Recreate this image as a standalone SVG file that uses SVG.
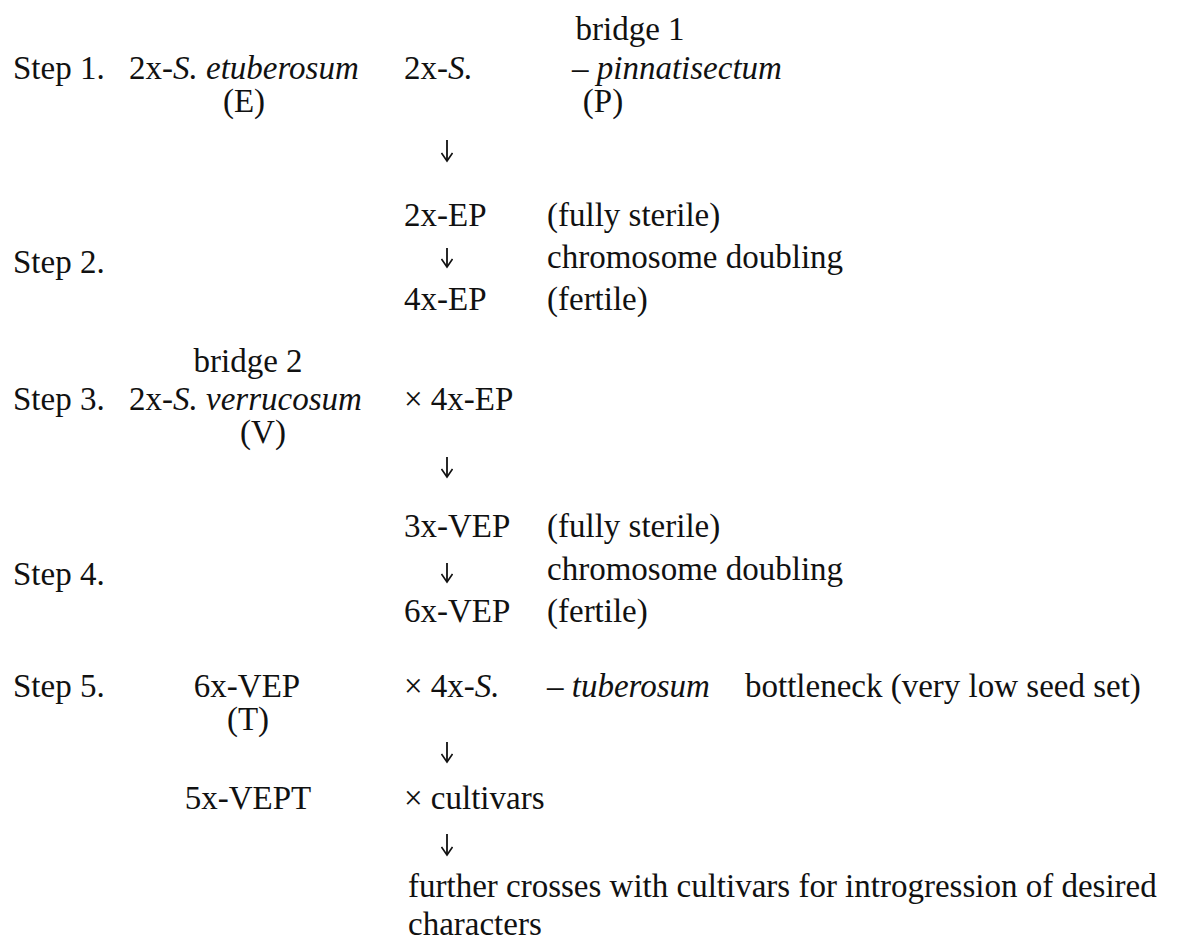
<svg xmlns="http://www.w3.org/2000/svg" width="1184" height="941" viewBox="0 0 1184 941">
<defs>
<style>
text{font-family:"Liberation Serif","Times New Roman",serif;font-size:33px;fill:#111;}
.i{font-style:italic;}
.c{text-anchor:middle;}
.arr{stroke:#111;stroke-width:1.8;fill:none;}
</style>
<marker id="ah" viewBox="0 0 12 12" refX="10" refY="6" markerWidth="12" markerHeight="12" markerUnits="userSpaceOnUse" orient="auto">
<path d="M2,0.5 L10,6 L2,11.5" fill="none" stroke="#111" stroke-width="1.6"/>
</marker>
</defs>
<rect width="1184" height="941" fill="#fff"/>
<g id="step1">
<text x="630" y="40" class="c">bridge 1</text>
<text x="13" y="79">Step 1.</text>
<text x="129" y="79">2x-<tspan class="i">S.</tspan> <tspan class="i">etuberosum</tspan></text>
<text x="404" y="79">2x-<tspan class="i">S.</tspan></text>
<text x="572" y="79">– <tspan class="i">pinnatisectum</tspan></text>
<text x="244" y="112" class="c">(E)</text>
<text x="603" y="112" class="c">(P)</text>
</g>
<g id="step2">
<text x="404" y="226">2x-EP</text>
<text x="547" y="226">(fully sterile)</text>
<text x="13" y="273">Step 2.</text>
<text x="547" y="268">chromosome doubling</text>
<text x="404" y="310">4x-EP</text>
<text x="547" y="310">(fertile)</text>
</g>
<g id="step3">
<text x="248" y="372" class="c">bridge 2</text>
<text x="13" y="410">Step 3.</text>
<text x="129" y="410">2x-<tspan class="i">S.</tspan> <tspan class="i">verrucosum</tspan></text>
<text x="404" y="410">× 4x-EP</text>
<text x="263" y="443" class="c">(V)</text>
</g>
<g id="step4">
<text x="404" y="537">3x-VEP</text>
<text x="547" y="537">(fully sterile)</text>
<text x="13" y="585">Step 4.</text>
<text x="547" y="580">chromosome doubling</text>
<text x="404" y="622">6x-VEP</text>
<text x="547" y="622">(fertile)</text>
</g>
<g id="step5">
<text x="13" y="697">Step 5.</text>
<text x="247" y="697" class="c">6x-VEP</text>
<text x="404" y="697">× 4x-<tspan class="i">S.</tspan></text>
<text x="547" y="697">– <tspan class="i">tuberosum</tspan></text>
<text x="745" y="697">bottleneck (very low seed set)</text>
<text x="248" y="730" class="c">(T)</text>
<text x="248" y="809" class="c">5x-VEPT</text>
<text x="404" y="809">× cultivars</text>
<text x="408" y="897">further crosses with cultivars for introgression of desired</text>
<text x="408" y="935">characters</text>
</g>
<g id="connectors">
<path class="arr" d="M447,140 V161" marker-end="url(#ah)"/>
<path class="arr" d="M447,248 V267" marker-end="url(#ah)"/>
<path class="arr" d="M447,457 V477" marker-end="url(#ah)"/>
<path class="arr" d="M447,563 V582" marker-end="url(#ah)"/>
<path class="arr" d="M447,742 V762" marker-end="url(#ah)"/>
<path class="arr" d="M447,834 V855" marker-end="url(#ah)"/>
</g>
</svg>
